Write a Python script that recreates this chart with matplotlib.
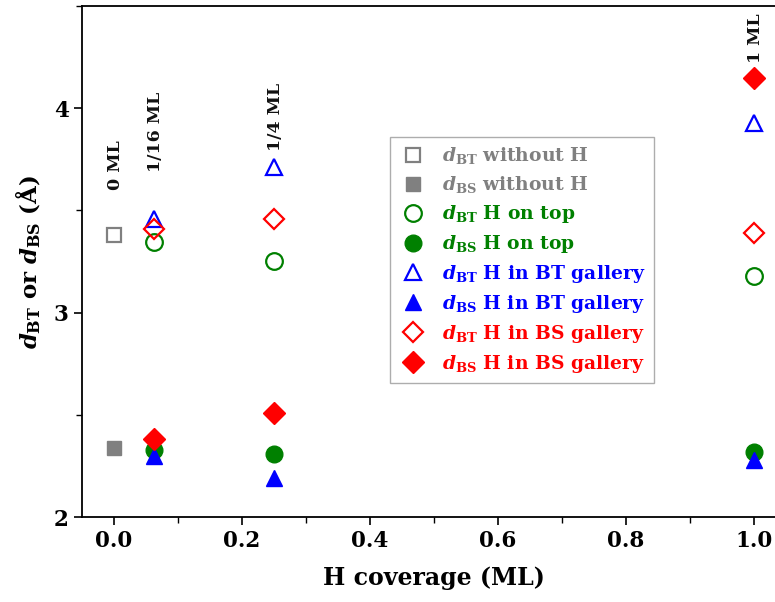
import matplotlib
matplotlib.use("Agg")
import matplotlib.pyplot as plt
from matplotlib.ticker import MultipleLocator

plt.rcParams['font.family'] = ['DejaVu Serif']
plt.rcParams['font.weight'] = 'bold'
plt.rcParams['mathtext.fontset'] = 'custom'
plt.rcParams['mathtext.rm'] = 'DejaVu Serif:bold'
plt.rcParams['mathtext.it'] = 'DejaVu Serif:italic:bold'
plt.rcParams['mathtext.bf'] = 'DejaVu Serif:bold'

# Data
x_clean = [0.0]
dBT_clean = [3.38]
dBS_clean = [2.34]

x_h = [0.0625, 0.25, 1.0]
dBT_top = [3.345, 3.25, 3.18]
dBS_top = [2.33, 2.31, 2.32]
dBT_btg = [3.46, 3.71, 3.93]
dBS_btg = [2.30, 2.19, 2.28]
dBT_bsg = [3.41, 3.46, 3.39]
dBS_bsg = [2.38, 2.51, 4.15]

cov_labels = ["0 ML", "1/16 ML", "1/4 ML", "1 ML"]
cov_x = [0.0, 0.0625, 0.25, 1.0]
cov_y = [3.60, 3.69, 3.79, 4.22]

fig = plt.figure(figsize=(7.75, 6.02), dpi=100)
ax = fig.add_axes([82/775, 1-517/602, (1.1*640)/775, 511/602])

gray, green, blue, red = '#808080', '#008000', '#0000ff', '#ff0000'
lw = 1.6
ax.plot(x_clean, dBT_clean, 's', ms=10, mfc='none', mec=gray, mew=lw, ls='none',
        label=r'$d_{\rm BT}$ without H')
ax.plot(x_clean, dBS_clean, 's', ms=10, mfc=gray, mec=gray, ls='none',
        label=r'$d_{\rm BS}$ without H')
ax.plot(x_h, dBT_top, 'o', ms=12, mfc='none', mec=green, mew=lw, ls='none',
        label=r'$d_{\rm BT}$ H on top')
ax.plot(x_h, dBS_top, 'o', ms=12, mfc=green, mec=green, ls='none',
        label=r'$d_{\rm BS}$ H on top')
ax.plot(x_h, dBT_btg, '^', ms=12, mfc='none', mec=blue, mew=lw, ls='none',
        label=r'$d_{\rm BT}$ H in BT gallery')
ax.plot(x_h, dBS_btg, '^', ms=12, mfc=blue, mec=blue, ls='none',
        label=r'$d_{\rm BS}$ H in BT gallery')
ax.plot(x_h, dBT_bsg, 'D', ms=10, mfc='none', mec=red, mew=lw, ls='none',
        label=r'$d_{\rm BT}$ H in BS gallery')
ax.plot(x_h, dBS_bsg, 'D', ms=11, mfc=red, mec=red, ls='none',
        label=r'$d_{\rm BS}$ H in BS gallery')

for lab, xx, yy in zip(cov_labels, cov_x, cov_y):
    ax.text(xx + 0.003, yy, lab, rotation=90, ha='center', va='bottom',
            fontsize=12.5, fontweight='bold', color='#111111')

ax.set_xlim(-0.05, 1.05)
ax.set_ylim(2, 4.5)
ax.xaxis.set_major_locator(MultipleLocator(0.2))
ax.xaxis.set_minor_locator(MultipleLocator(0.1))
ax.yaxis.set_major_locator(MultipleLocator(1))
ax.yaxis.set_minor_locator(MultipleLocator(0.5))
ax.tick_params(which='major', direction='out', length=6, width=1.2, labelsize=15.5)
ax.tick_params(which='minor', direction='out', length=4, width=1.0)
for s in ax.spines.values():
    s.set_linewidth(1.3)
ax.set_xlabel('H coverage (ML)', fontsize=17, fontweight='bold', labelpad=10)
ax.set_ylabel(r'$d_{\rm BT}$ or $d_{\rm BS}$ (Å)', fontsize=16.5, fontweight='bold', labelpad=8)

leg = ax.legend(loc='upper left', bbox_to_anchor=(390/775, 1-137/602),
                bbox_transform=fig.transFigure, fontsize=13.5, frameon=True,
                fancybox=False, edgecolor='#999999', borderpad=0.45,
                labelspacing=0.42, handletextpad=0.7, handlelength=1.6,
                borderaxespad=0)
leg.get_frame().set_linewidth(1.0)
for t, c in zip(leg.get_texts(), [gray, gray, green, green, blue, blue, red, red]):
    t.set_color(c)

fig.savefig('out.png', dpi=100)
